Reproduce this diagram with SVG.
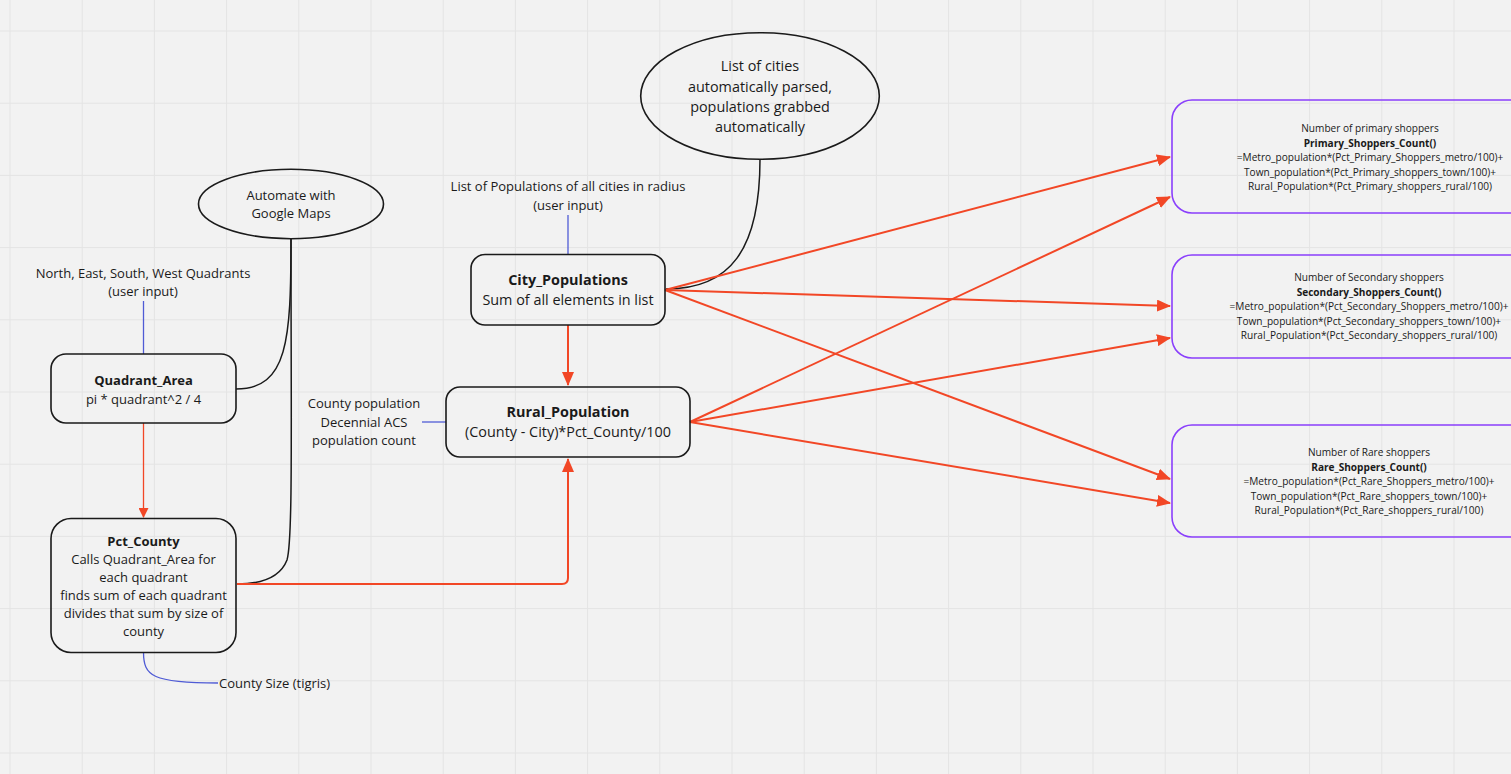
<svg xmlns="http://www.w3.org/2000/svg" width="1511" height="774" viewBox="0 0 1511 774">
<defs>
<style>
text{font-family:"Open Sans","Liberation Sans",sans-serif;fill:#1a1a1a;text-anchor:middle}
.t13{font-size:13px}
.t14{font-size:14.4px}
.t10{font-size:10.1px}
.b{font-weight:bold}
.box{fill:none;stroke:#1a1a1a;stroke-width:1.6}
.pbox{fill:none;stroke:#8a3ffc;stroke-width:1.6}
.red{fill:none;stroke:#f24726;stroke-width:2}
.blue{fill:none;stroke:#4f5bd5;stroke-width:1.3}
.blk{fill:none;stroke:#1a1a1a;stroke-width:1.5}
.grid line{stroke:#e4e4e4;stroke-width:1}
</style>
<marker id="ah" markerUnits="userSpaceOnUse" markerWidth="14" markerHeight="12" viewBox="0 0 14 12" refX="13" refY="6" orient="auto"><path d="M0,0 L14,6 L0,12 z" fill="#f24726"/></marker>
<marker id="ahs" markerUnits="userSpaceOnUse" markerWidth="10" markerHeight="10" viewBox="0 0 10 10" refX="9" refY="5" orient="auto"><path d="M0,0 L10,5 L0,10 z" fill="#f24726"/></marker>
</defs>
<rect x="0" y="0" width="1511" height="774" fill="#f2f2f2"/>
<g class="grid">
<line x1="10" y1="0" x2="10" y2="774"/><line x1="82.2" y1="0" x2="82.2" y2="774"/><line x1="154.4" y1="0" x2="154.4" y2="774"/><line x1="226.6" y1="0" x2="226.6" y2="774"/><line x1="298.8" y1="0" x2="298.8" y2="774"/><line x1="371" y1="0" x2="371" y2="774"/><line x1="443.2" y1="0" x2="443.2" y2="774"/><line x1="515.4" y1="0" x2="515.4" y2="774"/><line x1="587.6" y1="0" x2="587.6" y2="774"/><line x1="659.8" y1="0" x2="659.8" y2="774"/><line x1="732" y1="0" x2="732" y2="774"/><line x1="804.2" y1="0" x2="804.2" y2="774"/><line x1="876.4" y1="0" x2="876.4" y2="774"/><line x1="948.6" y1="0" x2="948.6" y2="774"/><line x1="1020.8" y1="0" x2="1020.8" y2="774"/><line x1="1093" y1="0" x2="1093" y2="774"/><line x1="1165.2" y1="0" x2="1165.2" y2="774"/><line x1="1237.4" y1="0" x2="1237.4" y2="774"/><line x1="1309.6" y1="0" x2="1309.6" y2="774"/><line x1="1381.8" y1="0" x2="1381.8" y2="774"/><line x1="1454" y1="0" x2="1454" y2="774"/>
<line x1="0" y1="31" x2="1511" y2="31"/><line x1="0" y1="103.2" x2="1511" y2="103.2"/><line x1="0" y1="175.4" x2="1511" y2="175.4"/><line x1="0" y1="247.6" x2="1511" y2="247.6"/><line x1="0" y1="319.8" x2="1511" y2="319.8"/><line x1="0" y1="392" x2="1511" y2="392"/><line x1="0" y1="464.2" x2="1511" y2="464.2"/><line x1="0" y1="536.4" x2="1511" y2="536.4"/><line x1="0" y1="608.6" x2="1511" y2="608.6"/><line x1="0" y1="680.8" x2="1511" y2="680.8"/><line x1="0" y1="753" x2="1511" y2="753"/>
</g>
<g id="connectors">
<path class="blk" d="M291,239 C291,340 288,389 236,389"/>
<path class="blk" d="M291,239 C291,420 293,540 287,560 C280,578 262,584 237,584"/>
<path class="blk" d="M760,159 C760,250 730,289 666,289"/>
<path class="blue" d="M143.5,301 L143.5,354"/>
<path class="blue" d="M568,215 L568,254"/>
<path class="blue" d="M422,422 L446,422"/>
<path class="blue" d="M143.5,652 C143.5,676 152,683 218,683"/>
<path class="red" style="stroke-width:1.3" d="M143.5,423 L143.5,517" marker-end="url(#ahs)"/>
<path class="red" d="M568,325 L568,385" marker-end="url(#ah)"/>
<path class="red" d="M237,584 L562,584 Q568,584 568,578 L568,459" marker-end="url(#ah)"/>
<path class="red" d="M665,290 L1170,157" marker-end="url(#ah)"/>
<path class="red" d="M665,290 L1170,306" marker-end="url(#ah)"/>
<path class="red" d="M665,290 L1170,479" marker-end="url(#ah)"/>
<path class="red" d="M690,422 L1170,197" marker-end="url(#ah)"/>
<path class="red" d="M690,422 L1170,338" marker-end="url(#ah)"/>
<path class="red" d="M690,422 L1170,503" marker-end="url(#ah)"/>
</g>
<g id="quadrants-input">
<text class="t13" x="143" y="278">North, East, South, West Quadrants</text>
<text class="t13" x="143" y="296">(user input)</text>
</g>
<g id="automate-google">
<ellipse cx="291" cy="204" rx="92.5" ry="34.7" fill="none" stroke="#1a1a1a" stroke-width="1.6"/>
<text class="t13" x="291" y="200">Automate with</text>
<text class="t13" x="291" y="218">Google Maps</text>
</g>
<g id="quadrant-area">
<rect class="box" x="51" y="354" width="185" height="69" rx="15"/>
<text class="t13 b" x="143.5" y="385">Quadrant_Area</text>
<text class="t13" x="143.5" y="403.5">pi * quadrant^2 / 4</text>
</g>
<g id="pct-county">
<rect class="box" x="51" y="518.5" width="185" height="134" rx="20"/>
<text class="t13 b" x="143.5" y="545.5">Pct_County</text>
<text class="t13" x="143.5" y="563.5">Calls Quadrant_Area for</text>
<text class="t13" x="143.5" y="581.5">each quadrant</text>
<text class="t13" x="143.5" y="600">finds sum of each quadrant</text>
<text class="t13" x="143.5" y="618">divides that sum by size of</text>
<text class="t13" x="143.5" y="636">county</text>
</g>
<g id="county-size">
<text class="t13" x="219" y="688" style="text-anchor:start">County Size (tigris)</text>
</g>
<g id="cities-input">
<text class="t13" x="568" y="191">List of Populations of all cities in radius</text>
<text class="t13" x="568" y="210">(user input)</text>
</g>
<g id="cities-auto">
<ellipse cx="760" cy="96" rx="119.3" ry="63.3" fill="none" stroke="#1a1a1a" stroke-width="1.6"/>
<text class="t14" x="760" y="71">List of cities</text>
<text class="t14" x="760" y="91.5">automatically parsed,</text>
<text class="t14" x="760" y="111.5">populations grabbed</text>
<text class="t14" x="760" y="132">automatically</text>
</g>
<g id="city-populations">
<rect class="box" x="471" y="254.5" width="194" height="70.5" rx="14"/>
<text class="t14 b" x="568" y="285">City_Populations</text>
<text class="t14" x="568" y="305">Sum of all elements in list</text>
</g>
<g id="county-population">
<text class="t13" x="364" y="408">County population</text>
<text class="t13" x="364" y="427">Decennial ACS</text>
<text class="t13" x="364" y="445">population count</text>
</g>
<g id="rural-population">
<rect class="box" x="446" y="387" width="244" height="70" rx="14"/>
<text class="t14 b" x="568" y="417">Rural_Population</text>
<text class="t14" x="568" y="437">(County - City)*Pct_County/100</text>
</g>
<g id="primary">
<rect class="pbox" x="1172" y="100" width="400" height="113" rx="20"/>
<text class="t10" x="1370" y="132">Number of primary shoppers</text>
<text class="t10 b" x="1370" y="147">Primary_Shoppers_Count()</text>
<text class="t10" x="1370" y="161">=Metro_population*(Pct_Primary_Shoppers_metro/100)+</text>
<text class="t10" x="1370" y="175.5">Town_population*(Pct_Primary_shoppers_town/100)+</text>
<text class="t10" x="1370" y="189.5">Rural_Population*(Pct_Primary_shoppers_rural/100)</text>
</g>
<g id="secondary">
<rect class="pbox" x="1172" y="255" width="400" height="103" rx="20"/>
<text class="t10" x="1369" y="281">Number of Secondary shoppers</text>
<text class="t10 b" x="1369" y="296">Secondary_Shoppers_Count()</text>
<text class="t10" x="1369" y="310">=Metro_population*(Pct_Secondary_Shoppers_metro/100)+</text>
<text class="t10" x="1369" y="324.5">Town_population*(Pct_Secondary_shoppers_town/100)+</text>
<text class="t10" x="1369" y="339">Rural_Population*(Pct_Secondary_shoppers_rural/100)</text>
</g>
<g id="rare">
<rect class="pbox" x="1172" y="425" width="400" height="112" rx="20"/>
<text class="t10" x="1369" y="456">Number of Rare shoppers</text>
<text class="t10 b" x="1369" y="471">Rare_Shoppers_Count()</text>
<text class="t10" x="1369" y="485">=Metro_population*(Pct_Rare_Shoppers_metro/100)+</text>
<text class="t10" x="1369" y="500">Town_population*(Pct_Rare_shoppers_town/100)+</text>
<text class="t10" x="1369" y="514">Rural_Population*(Pct_Rare_shoppers_rural/100)</text>
</g>
</svg>
